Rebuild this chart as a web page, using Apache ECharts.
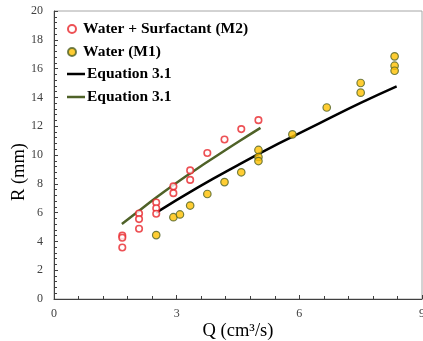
<!DOCTYPE html>
<html>
<head>
<meta charset="utf-8">
<script src="https://cdn.jsdelivr.net/npm/echarts@6/dist/echarts.min.js"></script>
<style>
  html, body { margin: 0; padding: 0; background: #fff; }
  #chart { width: 423px; height: 341px; }
</style>
</head>
<body>
<div id="chart"></div>
<script>
// Flow rate Q (cm3/s) vs radius R (mm)
const xTicks = [0, 3, 6, 9];
const yTicks = [0, 2, 4, 6, 8, 10, 12, 14, 16, 18, 20];

// Water + Surfactant (M2)
const m2Q = [1.67, 1.67, 1.67, 2.08, 2.08, 2.08, 2.5, 2.5, 2.5, 2.92, 2.92, 3.33, 3.33, 3.75, 4.17, 4.58, 5.0];
const m2R = [4.4, 4.25, 3.58, 5.94, 5.55, 4.88, 6.7, 6.3, 5.92, 7.82, 7.35, 8.93, 8.27, 10.14, 11.08, 11.8, 12.42];

// Water (M1)
const m1Q = [2.5, 2.92, 3.08, 3.33, 3.75, 4.17, 4.58, 5.0, 5.0, 5.0, 5.83, 6.67, 7.5, 7.5, 8.33, 8.33, 8.33];
const m1R = [4.44, 5.68, 5.87, 6.49, 7.29, 8.12, 8.8, 10.35, 9.86, 9.58, 11.43, 13.3, 15.0, 14.33, 16.85, 16.2, 15.85];

// Equation 3.1 curve for M1
const eqM1Q = [2.5, 3.5, 4.5, 5.5, 6.5, 7.5, 8.38];
const eqM1R = [6.0, 7.72, 9.3, 10.8, 12.22, 13.62, 14.77];

// Equation 3.1 curve for M2
const eqM2Q = [1.66, 2.0, 2.5, 3.0, 3.5, 4.0, 4.5, 5.05];
const eqM2R = [5.21, 5.95, 7.05, 8.08, 9.05, 9.98, 10.9, 11.88];

const zip = (xs, ys) => xs.map((x, i) => [x, ys[i]]);

const serif = '"Liberation Serif", "Times New Roman", serif';
const legendText = { fontFamily: serif, fontWeight: 'bold', fontSize: 15.5, color: '#000', lineHeight: 16, padding: [0, 0, 0, -3] };
const chart = echarts.init(document.getElementById('chart'), null, { renderer: 'canvas' });

chart.setOption({
  animation: false,
  backgroundColor: '#ffffff',
  grid: {
    left: 54, right: 1, top: 11, bottom: 42,
    outerBoundsMode: 'none', containLabel: false,
    show: true, borderColor: '#a6a6a6', borderWidth: 1
  },
  legend: [
    {
      left: 62, top: 16, orient: 'vertical',
      itemWidth: 18, itemHeight: 8, itemGap: 7,
      textStyle: legendText,
      data: ['Water + Surfactant (M2)', 'Water (M1)']
    },
    {
      left: 62, top: 61, orient: 'vertical',
      itemWidth: 18, itemHeight: 2.5, itemGap: 7, icon: 'rect',
      textStyle: legendText,
      data: ['Equation 3.1', 'Equation 3.1 ']
    }
  ],
  xAxis: {
    type: 'value', min: 0, max: 9, interval: 3,
    name: 'Q (cm\u00b3/s)', nameLocation: 'middle', nameGap: 23, nameMoveOverlap: false,
    nameTextStyle: { fontFamily: serif, fontSize: 18.5, color: '#000' },
    axisLine: { lineStyle: { color: '#404040', width: 1 } },
    axisTick: { inside: true, length: 4, lineStyle: { color: '#404040' } },
    minorTick: { show: true, splitNumber: 5, length: 3, lineStyle: { color: '#404040' } },
    axisLabel: { fontFamily: serif, fontSize: 12, color: '#404040', margin: 9,
      formatter: v => xTicks.includes(v) ? String(v) : '' },
    splitLine: { show: false }
  },
  yAxis: {
    type: 'value', min: 0, max: 20, interval: 2,
    name: 'R (mm)', nameLocation: 'middle', nameGap: 25, nameMoveOverlap: false,
    nameTextStyle: { fontFamily: serif, fontSize: 18.5, color: '#000', padding: [0, 34, 0, 0] },
    axisLine: { show: true, lineStyle: { color: '#404040', width: 1 } },
    axisTick: { show: true, inside: true, length: 4, lineStyle: { color: '#404040' } },
    minorTick: { show: true, splitNumber: 5, length: 3, lineStyle: { color: '#404040' } },
    axisLabel: { fontFamily: serif, fontSize: 12, color: '#404040', margin: 11,
      formatter: v => yTicks.includes(v) ? String(v) : '' },
    splitLine: { show: false }
  },
  series: [
    {
      name: 'Water + Surfactant (M2)', type: 'scatter', z: 4,
      data: zip(m2Q, m2R), symbol: 'circle', symbolSize: 6.5,
      itemStyle: { color: '#ffffff', borderColor: '#e8262b', borderWidth: 1.6 }
    },
    {
      name: 'Water (M1)', type: 'scatter', z: 4,
      data: zip(m1Q, m1R), symbol: 'circle', symbolSize: 7.5,
      itemStyle: { color: '#ffc000', borderColor: '#4f6228', borderWidth: 1.2 }
    },
    {
      name: 'Equation 3.1', type: 'line', z: 3, smooth: true, symbol: 'none',
      data: zip(eqM1Q, eqM1R),
      lineStyle: { color: '#000000', width: 2.5 }, itemStyle: { color: '#000000' }
    },
    {
      name: 'Equation 3.1 ', type: 'line', z: 3, smooth: true, symbol: 'none',
      data: zip(eqM2Q, eqM2R),
      lineStyle: { color: '#4f6228', width: 2.5 }, itemStyle: { color: '#4f6228' }
    }
  ]
});
</script>
</body>
</html>
